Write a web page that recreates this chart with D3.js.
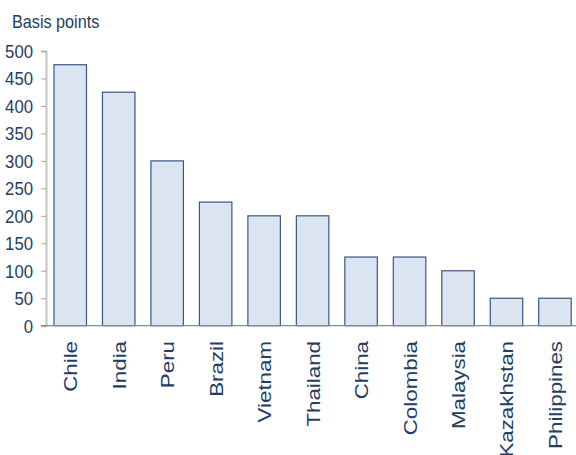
<!DOCTYPE html>
<html>
<head>
<meta charset="utf-8">
<script src="https://cdn.jsdelivr.net/npm/d3@7"></script>
<style>
	body { margin: 0; background: #fff; }
	svg { display: block; }
	text { font-family: "Liberation Sans", Arial, sans-serif; fill: #243d63; }
</style>
</head>
<body>
<svg width="576" height="455"></svg>
<script>
// Policy rate changes by country, basis points

var countries = ["Chile", "India", "Peru", "Brazil", "Vietnam", "Thailand", "China", "Colombia", "Malaysia", "Kazakhstan", "Philippines"];
var basis_points = [475, 425, 300, 225, 200, 200, 125, 125, 100, 50, 50];
var y_ticks = [0, 50, 100, 150, 200, 250, 300, 350, 400, 450, 500];

function draw(){
	var svg = d3.select("svg");

	var x = d3.scaleBand()
		.domain(countries)
		.range([46, 579.2])
		.paddingInner(0.33)
		.paddingOuter(0.165);

	var y = d3.scaleLinear()
		.domain([0, 500])
		.range([325.7, 51]);

	// title
	svg.append("text")
		.attr("transform", "translate(12,28) scale(0.9,1)")
		.attr("font-size", 18)
		.text("Basis points");

	// y axis
	var yAxis = svg.append("g")
		.attr("transform", "translate(46,0)")
		.call(d3.axisLeft(y).tickValues(y_ticks).tickSize(5).tickPadding(8));
	yAxis.select(".domain").attr("stroke", "#c4c4c4").attr("stroke-width", 2);
	yAxis.selectAll(".tick line").attr("stroke", "#a6a6a6");
	yAxis.selectAll(".tick text")
		.attr("font-size", 18)
		.attr("font-family", null)
		.attr("fill", "#243d63")
		.attr("transform", "scale(0.93,1)")
		.attr("x", -13 / 0.93)
		.attr("dy", "0.36em");

	// bars
	svg.append("g")
		.selectAll("rect")
		.data(basis_points)
		.enter().append("rect")
		.attr("x", (d, i) => x(countries[i]))
		.attr("y", d => y(d))
		.attr("width", x.bandwidth())
		.attr("height", d => y(0) - y(d))
		.attr("fill", "#dbe5f1")
		.attr("stroke", "#3b5682")
		.attr("stroke-width", 1.2);

	// baseline
	svg.append("line")
		.attr("x1", 41)
		.attr("x2", 576)
		.attr("y1", y(0))
		.attr("y2", y(0))
		.attr("stroke", "#8a8a8a")
		.attr("stroke-width", 1.2);

	// category labels
	svg.append("g")
		.selectAll("text")
		.data(countries)
		.enter().append("text")
		.attr("transform", c => "translate(" + (x(c) + x.bandwidth() / 2 + 7) + ",341) rotate(-90) scale(1.24,1)")
		.attr("text-anchor", "end")
		.attr("font-size", 18)
		.text(c => c);
}

draw();
</script>
</body>
</html>
